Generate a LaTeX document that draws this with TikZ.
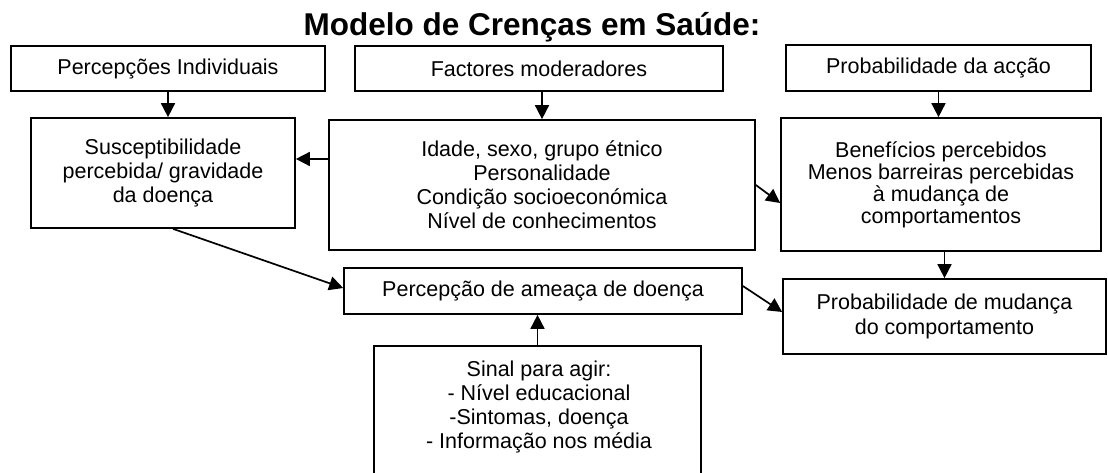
\documentclass[tikz,border=0pt]{standalone}
\usepackage{fontspec}
\setmainfont{Liberation Sans}
\usetikzlibrary{arrows.meta,calc}
\begin{document}
\begin{tikzpicture}[x=1pt,y=-1pt,
  box/.style={draw,line width=1.7pt,inner sep=0pt,align=center,font=\fontsize{21.5}{24}\selectfont},
  txt/.style={inner sep=0pt,align=center,font=\fontsize{21.5}{24}\selectfont},
  arr/.style={line width=1.7pt,-{Triangle[length=14pt,width=14pt]}}]
\useasboundingbox (0,0) rectangle (1108,473);
\clip (0,0) rectangle (1108,473);
\node[anchor=base,inner sep=0pt,font=\fontsize{31.5}{36}\selectfont\bfseries] (title) at (532,36) {Modelo de Crenças em Saúde:};
\node[box,minimum width=314pt,minimum height=45pt] (b1) at (168,68.5) {Percepções Individuais};
\node[box,minimum width=368pt,minimum height=45pt] (b2) at (539,68.5) {Factores moderadores};
\node[box,minimum width=305pt,minimum height=46pt] (b3) at (938.5,68) {Probabilidade da acção};
\node[box,minimum width=264pt,minimum height=110pt] (b4) at (163,173) {Susceptibilidade\\percebida/ gravidade\\da doença};
\node[box,minimum width=426pt,minimum height=130pt] (b5) at (542,185) {Idade, sexo, grupo étnico\\Personalidade\\Condição socioeconómica\\Nível de conhecimentos};
\node[box,minimum width=320pt,minimum height=133pt,font=\fontsize{21.5}{22}\selectfont] (b6) at (941,184.5) {Benefícios percebidos\\Menos barreiras percebidas\\à mudança de\\comportamentos};
\node[box,minimum width=398pt,minimum height=46pt] (b7) at (543,291) {Percepção de ameaça de doença};
\node[box,minimum width=323pt,minimum height=75pt,font=\fontsize{21.5}{25}\selectfont] (b8) at (944.5,316.5) {Probabilidade de mudança\\do comportamento};
\node[box,minimum width=327pt,minimum height=150pt,anchor=north] (b9) at (537.5,345) {};
\node[txt,anchor=north] (t9) at (539,361) {Sinal para agir:\\- Nível educacional\\-Sintomas, doença\\- Informação nos média};
\draw[arr] (b1.south) -- (b1.south |- b4.north);
\draw[arr] (b5.north |- b2.south) -- (b5.north);
\draw[arr] (b3.south) -- (b3.south |- b6.north);
\draw[arr] (b8.north |- b6.south) -- (b8.north);
\draw[arr] ([yshift=26pt]b5.west) -- ([yshift=26pt]b5.west -| b4.east);
\draw[arr] ([xshift=10pt]b4.south) -- ([yshift=3pt]b7.west);
\draw[arr] (b5.east) -- ([yshift=-18.5pt]b6.west);
\draw[arr] ([yshift=5pt]b7.east) -- ([yshift=4.5pt]b8.west);
\draw[arr] (b9.north) -- (b9.north |- b7.south);
\end{tikzpicture}
\end{document}
